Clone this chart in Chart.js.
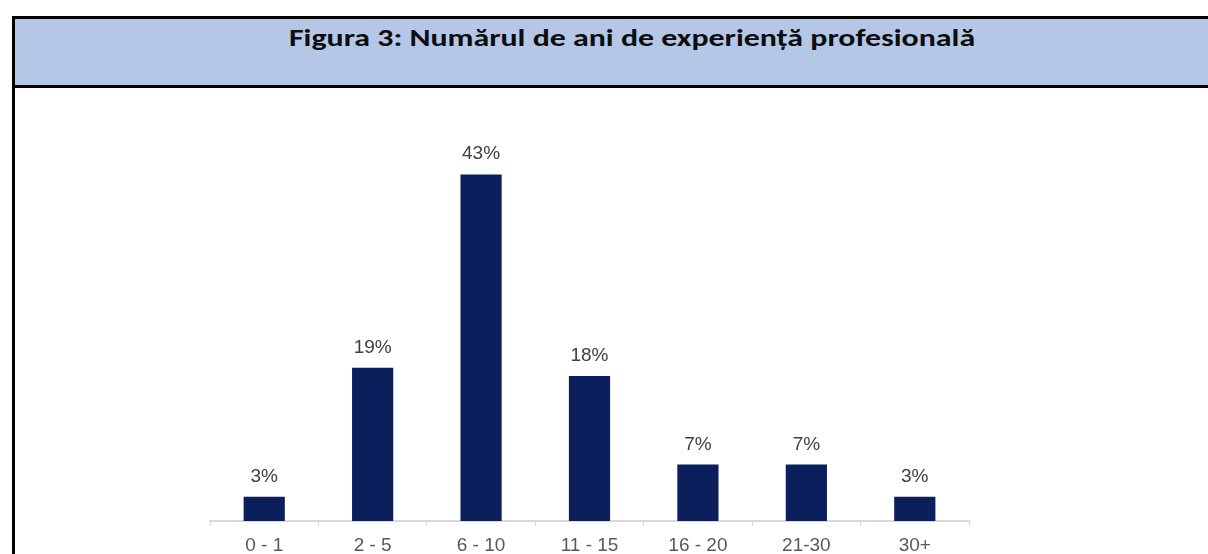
<!DOCTYPE html>
<html lang="ro">
<head>
<meta charset="utf-8">
<script src="https://cdn.jsdelivr.net/npm/chart.js@4"></script>
<style>
  html, body { margin: 0; padding: 0; background: #fff; }
  body { width: 1208px; height: 554px; position: relative; overflow: hidden; }
  #cadru {
    position: absolute; left: 12px; top: 16px; width: 1234px; height: 560px;
    border-left: 3px solid #000; border-top: 3px solid #000;
  }
  #antet {
    height: 66px; background: #b4c7e7; border-bottom: 3px solid #000;
    font-family: Carlito, Calibri, "Open Sans", sans-serif; font-weight: bold;
    font-size: 25px; color: #0d0d0d; text-align: center; line-height: 38px;
  }
  #titulo { display: inline-block; white-space: nowrap; transform-origin: center; }
  #zonaGrafic { position: absolute; left: 14px; top: 88px; width: 1194px; height: 466px; }
</style>
</head>
<body>
<div id="cadru"><div id="antet"><span id="titulo">Figura 3: Numărul de ani de experiență profesională</span></div></div>
<div id="zonaGrafic"><canvas id="graficoExperienta"></canvas></div>
<script>
// Datos del gráfico
const categorias = ['0 - 1', '2 - 5', '6 - 10', '11 - 15', '16 - 20', '21-30', '30+'];
const porcentajes = [3, 19, 43, 18, 7, 7, 3];

// Ajustar el ancho del título al de la figura original (~686px)
const titulo = document.getElementById('titulo');
titulo.style.transform = 'scaleX(' + (686 / titulo.offsetWidth) + ')';

// Etiquetas de valor encima de cada barra
const etiquetasValor = {
  id: 'etiquetasValor',
  afterDatasetsDraw(chart) {
    const { ctx } = chart;
    const meta = chart.getDatasetMeta(0);
    ctx.save();
    ctx.font = '19px "Liberation Sans", Arial, sans-serif';
    ctx.fillStyle = '#404040';
    ctx.textAlign = 'center';
    ctx.textBaseline = 'alphabetic';
    meta.data.forEach((bar, i) => {
      ctx.fillText(porcentajes[i] + '%', bar.x, bar.y - 15);
    });
    ctx.restore();
  }
};

const ctx = document.getElementById('graficoExperienta').getContext('2d');
new Chart(ctx, {
  type: 'bar',
  data: {
    labels: categorias,
    datasets: [{
      data: porcentajes,
      backgroundColor: '#0b1f5c',
      categoryPercentage: 1,
      barPercentage: 0.38
    }]
  },
  options: {
    responsive: true,
    maintainAspectRatio: false,
    animation: false,
    layout: { padding: { left: 196, right: 239, top: 30, bottom: 0 } },
    plugins: {
      legend: { display: false },
      tooltip: { enabled: false }
    },
    scales: {
      x: {
        grid: {
          offset: true,
          drawOnChartArea: false,
          drawTicks: true,
          tickLength: 5,
          color: '#d9d9d9'
        },
        border: { color: '#d9d9d9', width: 2 },
        ticks: {
          color: '#595959',
          padding: 8,
          font: { family: '"Liberation Sans", Arial, sans-serif', size: 19 }
        },
        afterFit(scale) { scale.height = 33; }
      },
      y: {
        display: false,
        min: 0,
        max: 50
      }
    }
  },
  plugins: [etiquetasValor]
});
</script>
</body>
</html>
